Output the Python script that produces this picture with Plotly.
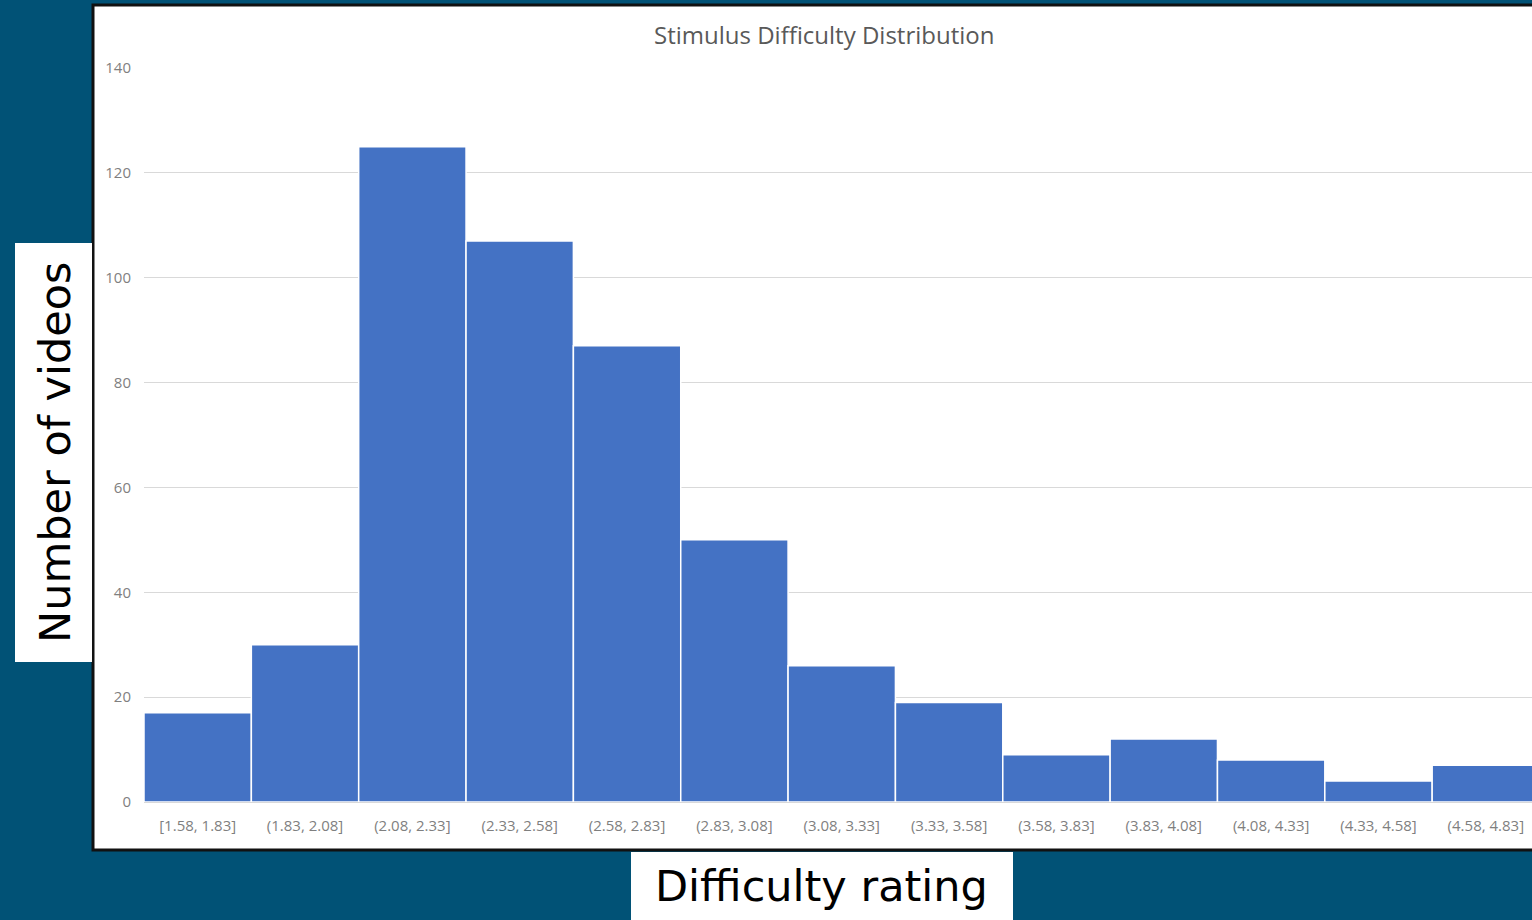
import plotly.graph_objects as go

# Histogram bins (difficulty rating) and counts
bins = ["[1.58, 1.83]", "(1.83, 2.08]", "(2.08, 2.33]", "(2.33, 2.58]",
        "(2.58, 2.83]", "(2.83, 3.08]", "(3.08, 3.33]", "(3.33, 3.58]",
        "(3.58, 3.83]", "(3.83, 4.08]", "(4.08, 4.33]", "(4.33, 4.58]",
        "(4.58, 4.83]"]
counts = [17, 30, 125, 107, 87, 50, 26, 19, 9, 12, 8, 4, 7]
y_ticks = [0, 20, 40, 60, 80, 100, 120, 140]

W, H = 1532, 920
L, R, T, B = 144, 0, 68, 118
pw, ph = W - L - R, H - T - B


def px(x):
    return (x - L) / pw


def py(y):
    return (H - B - y) / ph


fig = go.Figure(go.Bar(
    x=bins, y=counts,
    marker=dict(color="#4472C4", line=dict(color="#FFFFFF", width=1.5)),
    width=1.0,
))

fig.update_layout(
    width=W, height=H,
    margin=dict(l=L, r=R, t=T, b=B),
    paper_bgcolor="#015276",
    plot_bgcolor="#FFFFFF",
    showlegend=False,
    font=dict(family="Open Sans, sans-serif", color="#7F7F7F"),
    xaxis=dict(
        range=[-0.5, 12.43], showgrid=False, showline=True,
        linecolor="#D9D9D9", linewidth=1, ticks="",
        tickfont=dict(size=15, color="#7F7F7F"), ticklabelstandoff=10,
    ),
    yaxis=dict(
        range=[0, 140], tickvals=y_ticks, showgrid=True,
        gridcolor="#D9D9D9", gridwidth=1, zeroline=False, showline=False,
        tickfont=dict(size=15, color="#7F7F7F"), ticklabelstandoff=12,
    ),
    shapes=[
        # white chart panel with dark border
        dict(type="rect", xref="paper", yref="paper", layer="below",
             x0=px(93), x1=px(1545), y0=py(850), y1=py(5),
             fillcolor="#FFFFFF", line=dict(color="#111111", width=3)),
        # white boxes behind the axis labels
        dict(type="rect", xref="paper", yref="paper",
             x0=px(15), x1=px(92), y0=py(662), y1=py(243),
             fillcolor="#FFFFFF", line=dict(width=0)),
        dict(type="rect", xref="paper", yref="paper",
             x0=px(631), x1=px(1013), y0=py(922), y1=py(852),
             fillcolor="#FFFFFF", line=dict(width=0)),
    ],
    annotations=[
        dict(text="Stimulus Difficulty Distribution", xref="paper", yref="paper",
             x=px(824), y=py(34), xanchor="center", yanchor="middle",
             showarrow=False, font=dict(size=24, color="#595959")),
        dict(text="Number of videos", xref="paper", yref="paper",
             x=px(55), y=py(453), xanchor="center", yanchor="middle",
             textangle=-90, showarrow=False,
             font=dict(family="DejaVu Sans", size=43, color="#000000")),
        dict(text="Difficulty rating", xref="paper", yref="paper",
             x=px(821), y=py(886), xanchor="center", yanchor="middle",
             showarrow=False,
             font=dict(family="DejaVu Sans", size=43, color="#000000")),
    ],
)

fig.write_html("out.html", config={"displayModeBar": False},
               post_script="document.body.style.margin='0';")
